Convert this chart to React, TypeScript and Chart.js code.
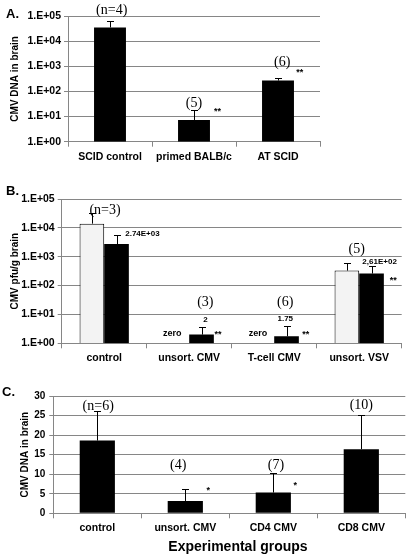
import React, { useEffect, useRef } from "react";
import { Chart, registerables } from "chart.js";
Chart.register(...registerables);

// ---------- DATA ----------
const catsA = ["SCID control", "primed BALB/c", "AT SCID"];
const valsA = [35000, 7.3, 270];
const errA = [66000, 18, 350];
const nA = ["(n=4)", "(5)", "(6)"];

const catsB = ["control", "unsort. CMV", "T-cell CMV", "unsort. VSV"];
const valsBWhite: (number | null)[] = [14000, null, null, 330];
const errBWhite: (number | null)[] = [32000, null, null, 620];
const valsBBlack = [2740, 2, 1.75, 261];
const errBBlack = [5600, 3.6, 4, 470];
const nB = ["(n=3)", "(3)", "(6)", "(5)"];
const valueLabelsB = ["2.74E+03", "2", "1.75", "2,61E+02"];

const catsC = ["control", "unsort. CMV", "CD4 CMV", "CD8 CMV"];
const valsC = [18.6, 3.15, 5.3, 16.4];
const errC = [26.2, 6.1, 10.4, 25.1];
const nC = ["(n=6)", "(4)", "(7)", "(10)"];

const logTicks = [1, 10, 100, 1000, 10000, 100000];
const linTicks = [0, 5, 10, 15, 20, 25, 30];

// ---------- STYLE ----------
const SANS = '"Liberation Sans", Arial, sans-serif';
const SERIF = '"Liberation Serif", "Times New Roman", serif';
const GRID = "#868686";
const fSerif = `14px ${SERIF}`;
const fNum = `bold 8px ${SANS}`;
const fZero = `bold 9px ${SANS}`;
const fStar = `bold 9px ${SANS}`;

const errorBarPlugin = {
  id: "errbars",
  afterDatasetsDraw(chart: any) {
    const ctx = chart.ctx;
    const ys = chart.scales.y;
    chart.data.datasets.forEach((ds: any, di: number) => {
      const errs = ds.errTop;
      if (!errs) return;
      const meta = chart.getDatasetMeta(di);
      meta.data.forEach((bar: any, i: number) => {
        const e = errs[i];
        if (e == null || ds.data[i] == null) return;
        const x = Math.round(bar.x) + 0.5;
        const yTop = Math.round(ys.getPixelForValue(e)) + 0.5;
        ctx.save();
        ctx.strokeStyle = "#000";
        ctx.lineWidth = 1;
        ctx.beginPath();
        ctx.moveTo(x, bar.y);
        ctx.lineTo(x, yTop);
        ctx.moveTo(x - 3.5, yTop);
        ctx.lineTo(x + 3.5, yTop);
        ctx.stroke();
        ctx.restore();
      });
    });
  },
};

const notesPlugin = {
  id: "notes",
  afterDatasetsDraw(chart: any, _args: any, opts: any) {
    const items = (opts && opts.items) || [];
    const ctx = chart.ctx;
    const xs = chart.scales.x;
    const ys = chart.scales.y;
    const cw = (xs.right - xs.left) / chart.data.labels.length;
    ctx.save();
    ctx.textAlign = "center";
    ctx.textBaseline = "middle";
    ctx.fillStyle = "#000";
    items.forEach((it: any) => {
      ctx.font = it.font;
      ctx.fillText(it.text, xs.getPixelForValue(it.cat) + it.dx * cw, ys.getPixelForValue(it.y));
    });
    ctx.restore();
  },
};

const logFmt = (v: any) => "1.E+0" + Math.round(Math.log10(Number(v)));

function yLog(title: string, width: number, titlePad: number) {
  return {
    type: "logarithmic",
    min: 1,
    max: 100000,
    afterBuildTicks: (s: any) => {
      s.ticks = logTicks.map((v) => ({ value: v }));
    },
    afterFit: (s: any) => {
      s.width = width;
    },
    ticks: { callback: logFmt, font: { family: SANS, size: 10.5, weight: "bold" }, color: "#000", padding: 3 },
    grid: { color: GRID, tickLength: 4 },
    border: { color: GRID },
    title: { display: true, text: title, font: { family: SANS, size: 10, weight: "bold" }, color: "#000", padding: { top: titlePad, bottom: 0 } },
  };
}

function xCat(height: number) {
  return {
    type: "category",
    offset: true,
    afterFit: (s: any) => {
      s.height = height;
    },
    ticks: { font: { family: SANS, size: 10.5, weight: "bold" }, color: "#000", maxRotation: 0, autoSkip: false, padding: 4 },
    grid: { display: true, drawOnChartArea: false, color: GRID, tickLength: 5 },
    border: { color: GRID },
  };
}

function useChart(ref: any, cfg: () => any) {
  useEffect(() => {
    const c = new Chart(ref.current, cfg());
    return () => c.destroy();
  }, []);
}

function PanelA() {
  const ref = useRef<HTMLCanvasElement>(null);
  useChart(ref, () => ({
    type: "bar",
    data: {
      labels: catsA,
      datasets: [
        { data: valsA, errTop: errA, backgroundColor: "#000", borderWidth: 0, categoryPercentage: 0.38, barPercentage: 1 },
      ],
    },
    options: {
      animation: false,
      responsive: false,
      layout: { padding: { left: 0, right: 87, top: 16, bottom: 0 } },
      plugins: {
        legend: { display: false },
        tooltip: { enabled: false },
        notes: {
          items: [
            { cat: 0, dx: 0.02, y: 1.74e5, text: nA[0], font: fSerif },
            { cat: 1, dx: 0, y: 34, text: nA[1], font: fSerif },
            { cat: 2, dx: 0.05, y: 1480, text: nA[2], font: fSerif },
            { cat: 1, dx: 0.28, y: 16, text: "**", font: fStar },
            { cat: 2, dx: 0.26, y: 540, text: "**", font: fStar },
          ],
        },
      },
      scales: { x: xCat(38.3), y: yLog("CMV DNA in brain", 68, 9) },
    },
    plugins: [errorBarPlugin, notesPlugin],
  }));
  return <canvas ref={ref} width={407} height={180} style={{ position: "absolute", left: 0, top: 0 }} />;
}

function PanelB() {
  const ref = useRef<HTMLCanvasElement>(null);
  useChart(ref, () => ({
    type: "bar",
    data: {
      labels: catsB,
      datasets: [
        { data: valsBWhite, errTop: errBWhite, backgroundColor: "#f3f3f3", borderColor: "#000", borderWidth: 1, borderSkipped: "bottom", categoryPercentage: 0.58, barPercentage: 1 },
        { data: valsBBlack, errTop: errBBlack, backgroundColor: "#000", borderWidth: 0, categoryPercentage: 0.58, barPercentage: 1 },
      ],
    },
    options: {
      animation: false,
      responsive: false,
      layout: { padding: { left: 0, right: 5.3, top: 19, bottom: 0 } },
      plugins: {
        legend: { display: false },
        tooltip: { enabled: false },
        notes: {
          items: [
            { cat: 0, dx: 0.01, y: 3.9e4, text: nB[0], font: fSerif },
            { cat: 1, dx: 0.19, y: 27, text: nB[1], font: fSerif },
            { cat: 2, dx: 0.13, y: 27, text: nB[2], font: fSerif },
            { cat: 3, dx: -0.03, y: 1800, text: nB[3], font: fSerif },
            { cat: 0, dx: 0.45, y: 6000, text: valueLabelsB[0], font: fNum },
            { cat: 1, dx: 0.19, y: 6.4, text: valueLabelsB[1], font: fNum },
            { cat: 2, dx: 0.13, y: 6.9, text: valueLabelsB[2], font: fNum },
            { cat: 3, dx: 0.24, y: 670, text: valueLabelsB[3], font: fNum },
            { cat: 1, dx: -0.2, y: 2.1, text: "zero", font: fZero },
            { cat: 2, dx: -0.19, y: 2.1, text: "zero", font: fZero },
            { cat: 1, dx: 0.34, y: 2.0, text: "**", font: fStar },
            { cat: 2, dx: 0.37, y: 2.0, text: "**", font: fStar },
            { cat: 3, dx: 0.4, y: 150, text: "**", font: fStar },
          ],
        },
      },
      scales: { x: xCat(31.7), y: yLog("CMV pfu/g brain", 61.7, 9) },
    },
    plugins: [errorBarPlugin, notesPlugin],
  }));
  return <canvas ref={ref} width={407} height={195} style={{ position: "absolute", left: 0, top: 180 }} />;
}

function PanelC() {
  const ref = useRef<HTMLCanvasElement>(null);
  useChart(ref, () => ({
    type: "bar",
    data: {
      labels: catsC,
      datasets: [
        { data: valsC, errTop: errC, backgroundColor: "#000", borderWidth: 0, categoryPercentage: 0.4, barPercentage: 1 },
      ],
    },
    options: {
      animation: false,
      responsive: false,
      layout: { padding: { left: 0, right: 1.7, top: 21, bottom: 0 } },
      plugins: {
        legend: { display: false },
        tooltip: { enabled: false },
        notes: {
          items: [
            { cat: 0, dx: 0.01, y: 27.4, text: nC[0], font: fSerif },
            { cat: 1, dx: -0.08, y: 12.35, text: nC[1], font: fSerif },
            { cat: 2, dx: 0.03, y: 12.35, text: nC[2], font: fSerif },
            { cat: 3, dx: 0, y: 27.7, text: nC[3], font: fSerif },
            { cat: 1, dx: 0.26, y: 5.9, text: "*", font: fStar },
            { cat: 2, dx: 0.25, y: 7.2, text: "*", font: fStar },
          ],
        },
      },
      scales: {
        x: xCat(43.7),
        y: {
          type: "linear",
          min: 0,
          max: 30,
          afterBuildTicks: (s: any) => {
            s.ticks = linTicks.map((v) => ({ value: v }));
          },
          afterFit: (s: any) => {
            s.width = 53.3;
          },
          ticks: { font: { family: SANS, size: 10, weight: "bold" }, color: "#000", padding: 4 },
          grid: { color: GRID, tickLength: 4 },
          border: { color: GRID },
          title: { display: true, text: "CMV DNA in brain", font: { family: SANS, size: 10, weight: "bold" }, color: "#000", padding: { top: 19, bottom: 0 } },
        },
      },
    },
    plugins: [errorBarPlugin, notesPlugin],
  }));
  return <canvas ref={ref} width={407} height={182} style={{ position: "absolute", left: 0, top: 375 }} />;
}

const letterStyle: any = { position: "absolute", fontFamily: SANS, fontWeight: "bold", fontSize: 13, lineHeight: "14px", color: "#000" };

export default function App() {
  return (
    <div style={{ position: "absolute", left: 0, top: 0, width: 407, height: 557, background: "#fff", overflow: "hidden" }}>
      <PanelA />
      <PanelB />
      <PanelC />
      <div style={{ ...letterStyle, left: 6, top: 7 }}>A.</div>
      <div style={{ ...letterStyle, left: 6, top: 184 }}>B.</div>
      <div style={{ ...letterStyle, left: 2, top: 385 }}>C.</div>
      <div
        style={{
          position: "absolute",
          left: 238 - 100,
          width: 200,
          top: 538,
          textAlign: "center",
          fontFamily: SANS,
          fontWeight: "bold",
          fontSize: 14,
          lineHeight: "17px",
          color: "#000",
        }}
      >
        Experimental groups
      </div>
    </div>
  );
}
